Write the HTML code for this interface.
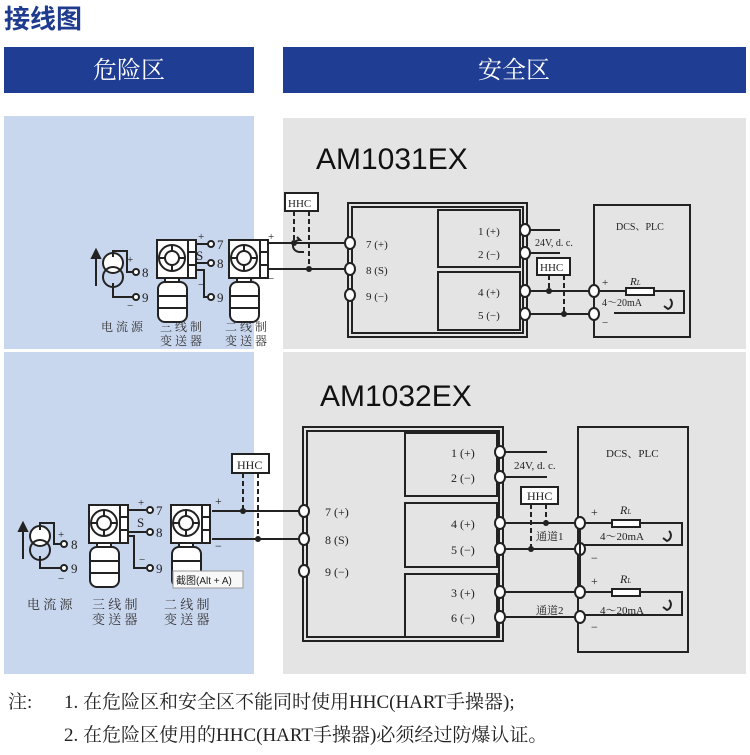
<!DOCTYPE html>
<html><head><meta charset="utf-8"><style>
body{margin:0;background:#fff;width:750px;height:750px;overflow:hidden}
svg text{font-family:"Liberation Serif","Noto Serif CJK SC",serif}
</style></head><body>
<svg width="750" height="750" viewBox="0 0 750 750" xmlns="http://www.w3.org/2000/svg">
<defs>
<g id="tx" fill="none" stroke="#222" stroke-width="2">
 <rect x="0" y="0" width="31" height="38" fill="#fff"/>
 <circle cx="15" cy="18" r="13" fill="#fff"/>
 <circle cx="15" cy="18" r="7"/>
 <path d="M15 5v6M15 25v6M2 18h6M22 18h6"/>
 <rect x="31" y="0" width="8" height="38" fill="#fff"/>
 <path d="M31 12h8M31 25h8"/>
 <rect x="8" y="38" width="14" height="4" fill="#fff"/>
 <rect x="1" y="42" width="29" height="40" rx="7" fill="#fff"/>
 <path d="M1 56h29M1 68h29"/>
</g>
<g id="src" fill="none" stroke="#222" stroke-width="2">
 <circle cx="0" cy="-7" r="10" fill="#fff"/><circle cx="0" cy="7" r="10"/>
 <path d="M-17 16v-30M-17 -20l-4 8h8z" fill="#222"/>
</g>
</defs>
<text x="4" y="28" font-size="26" font-weight="bold" fill="#1f3b8f" style="font-family:'Liberation Sans','Noto Sans CJK SC',sans-serif">接线图</text>
<rect x="4" y="47" width="250" height="46" fill="#203d94"/>
<rect x="283" y="47" width="463" height="46" fill="#203d94"/>
<text x="129" y="78" font-size="24" fill="#fff" text-anchor="middle">危险区</text>
<text x="514" y="78" font-size="24" fill="#fff" text-anchor="middle">安全区</text>
<rect x="4" y="116" width="250" height="558" fill="#c8d6ee"/>
<rect x="283" y="118" width="463" height="556" fill="#e4e4e4"/>
<rect x="0" y="349" width="750" height="3" fill="#fff"/>

<!-- ===== upper ===== -->
<text x="316" y="169" font-size="30" fill="#111" style="font-family:'Liberation Sans',sans-serif">AM1031EX</text>
<g fill="none" stroke="#222" stroke-width="2">
 <rect x="348" y="203" width="179" height="134"/>
 <rect x="352" y="207" width="171" height="126"/>
 <rect x="438" y="210" width="82" height="57" fill="#e4e4e4"/>
 <rect x="438" y="272" width="82" height="58" fill="#e4e4e4"/>
 <rect x="594" y="205" width="96" height="132"/>
 <path d="M262 243h88M262 269h88"/>
 <path d="M525 230h35M525 253h35"/>
 <path d="M525 291h69M525 314h69M594 291h32M654 291h30v22h-70"/>
 <rect x="626" y="288" width="28" height="7" fill="#fff"/>
 <rect x="285" y="193" width="33" height="18" fill="#fff"/>
 <rect x="537" y="258" width="33" height="17" fill="#fff"/>
 <path d="M294 211v32M309 211v58M549 275v16M564 275v39" stroke-dasharray="5,3"/>
 <path d="M300 252a7 6 0 1 1 0 -12l-3 -3M300 252l4 0" />
</g>
<g fill="#222"><circle cx="294" cy="243" r="3"/><circle cx="309" cy="269" r="3"/><circle cx="549" cy="291" r="3"/><circle cx="564" cy="314" r="3"/></g>
<g fill="#fff" stroke="#222" stroke-width="2">
 <ellipse cx="350" cy="243" rx="5" ry="6"/><ellipse cx="350" cy="269" rx="5" ry="6"/><ellipse cx="350" cy="295" rx="5" ry="6"/>
 <ellipse cx="525" cy="230" rx="5" ry="6"/><ellipse cx="525" cy="253" rx="5" ry="6"/><ellipse cx="525" cy="291" rx="5" ry="6"/><ellipse cx="525" cy="314" rx="5" ry="6"/>
 <ellipse cx="594" cy="291" rx="5" ry="6"/><ellipse cx="594" cy="314" rx="5" ry="6"/>
</g>
<g font-size="11" fill="#222">
 <text x="288" y="207">HHC</text><text x="540" y="271">HHC</text>
 <text x="366" y="248">7 (+)</text><text x="366" y="274">8 (S)</text><text x="366" y="300">9 (−)</text>
 <text x="478" y="235">1 (+)</text><text x="478" y="258">2 (−)</text>
 <text x="478" y="296">4 (+)</text><text x="478" y="319">5 (−)</text>
 <text x="535" y="246" font-size="10">24V, d. c.</text>
 <text x="616" y="230" font-size="10">DCS、PLC</text>
 <text x="602" y="286">+</text><text x="602" y="326">−</text>
 <text x="630" y="285" font-style="italic">R<tspan font-size="7">L</tspan></text>
 <text x="602" y="306" font-size="10">4～20mA</text>
 <text x="268" y="240">+</text><text x="268" y="282">−</text>
</g>
<path d="M670 299a6 6 0 0 1 -2 10l-4 -3" fill="none" stroke="#222" stroke-width="2"/>
<!-- left upper -->
<use href="#tx" x="157" y="240"/>
<use href="#tx" x="229" y="240"/>
<use href="#src" x="113" y="270"/>
<g fill="none" stroke="#222" stroke-width="2">
 <path d="M113 257v-6h14v21h6M113 283v14h20"/>
 <path d="M196 244h12M196 263h12"/>
 <path d="M196 270h8v27h4"/>
 <circle cx="136" cy="272" r="3" fill="#fff"/><circle cx="136" cy="297" r="3" fill="#fff"/>
 <circle cx="211" cy="244" r="3" fill="#fff"/><circle cx="211" cy="263" r="3" fill="#fff"/><circle cx="211" cy="297" r="3" fill="#fff"/>
</g>
<g font-size="13" fill="#222">
 <text x="142" y="277">8</text><text x="142" y="302">9</text>
 <text x="217" y="249">7</text><text x="217" y="268">8</text><text x="217" y="302">9</text>
 <text x="198" y="240" font-size="11">+</text><text x="196" y="260">S</text><text x="198" y="288" font-size="11">−</text>
 <text x="127" y="263" font-size="11">+</text><text x="127" y="309" font-size="11">−</text>
</g>
<g font-size="12" fill="#333">
 <text x="101" y="331">电 流 源</text>
 <text x="160" y="331">三 线 制</text><text x="160" y="345">变 送 器</text>
 <text x="225" y="331">二 线 制</text><text x="225" y="345">变 送 器</text>
</g>

<!-- ===== lower ===== -->
<text x="320" y="406" font-size="30" fill="#111" style="font-family:'Liberation Sans',sans-serif">AM1032EX</text>
<g fill="none" stroke="#222" stroke-width="2">
 <rect x="303" y="427" width="200" height="214"/>
 <rect x="307" y="431" width="192" height="206"/>
 <rect x="405" y="433" width="92" height="63" fill="#e4e4e4"/>
 <rect x="405" y="503" width="92" height="64" fill="#e4e4e4"/>
 <rect x="405" y="574" width="92" height="63" fill="#e4e4e4"/>
 <rect x="578" y="427" width="110" height="225"/>
 <path d="M212 511h92M212 539h92"/>
 <path d="M500 452h47M500 477h47"/>
 <path d="M500 523h80M500 549h80M500 592h80M500 617h80"/>
 <path d="M580 523h32M640 523h42v22h-102M580 592h32M640 592h42v23h-102"/>
 <rect x="612" y="520" width="28" height="7" fill="#fff"/>
 <rect x="612" y="589" width="28" height="7" fill="#fff"/>
 <rect x="232" y="454" width="37" height="19" fill="#fff"/>
 <rect x="521" y="487" width="37" height="17" fill="#fff"/>
 <path d="M243 473v38M258 473v66M531 504v45M546 504v19" stroke-dasharray="5,3"/>
</g>
<g fill="#222"><circle cx="243" cy="511" r="3"/><circle cx="258" cy="539" r="3"/><circle cx="531" cy="549" r="3"/><circle cx="546" cy="523" r="3"/></g>
<g fill="#fff" stroke="#222" stroke-width="2">
 <ellipse cx="304" cy="511" rx="5" ry="6"/><ellipse cx="304" cy="539" rx="5" ry="6"/><ellipse cx="304" cy="571" rx="5" ry="6"/>
 <ellipse cx="500" cy="452" rx="5" ry="6"/><ellipse cx="500" cy="477" rx="5" ry="6"/><ellipse cx="500" cy="523" rx="5" ry="6"/><ellipse cx="500" cy="549" rx="5" ry="6"/><ellipse cx="500" cy="592" rx="5" ry="6"/><ellipse cx="500" cy="617" rx="5" ry="6"/>
 <ellipse cx="580" cy="523" rx="5" ry="6"/><ellipse cx="580" cy="549" rx="5" ry="6"/><ellipse cx="580" cy="592" rx="5" ry="6"/><ellipse cx="580" cy="617" rx="5" ry="6"/>
</g>
<path d="M580 529v57" stroke="#222" stroke-width="2"/>
<g font-size="12" fill="#222">
 <text x="237" y="469">HHC</text><text x="527" y="500">HHC</text>
 <text x="325" y="516">7 (+)</text><text x="325" y="544">8 (S)</text><text x="325" y="576">9 (−)</text>
 <text x="451" y="457">1 (+)</text><text x="451" y="482">2 (−)</text>
 <text x="451" y="528">4 (+)</text><text x="451" y="554">5 (−)</text>
 <text x="451" y="597">3 (+)</text><text x="451" y="622">6 (−)</text>
 <text x="514" y="469" font-size="11">24V, d. c.</text>
 <text x="606" y="457" font-size="11">DCS、PLC</text>
 <text x="591" y="516">+</text><text x="591" y="562">−</text>
 <text x="591" y="585">+</text><text x="591" y="631">−</text>
 <text x="620" y="514" font-style="italic">R<tspan font-size="7">L</tspan></text>
 <text x="620" y="583" font-style="italic">R<tspan font-size="7">L</tspan></text>
 <text x="600" y="540" font-size="11">4～20mA</text>
 <text x="600" y="614" font-size="11">4～20mA</text>
 <text x="536" y="540" font-size="11">通道1</text>
 <text x="536" y="614" font-size="11">通道2</text>
 <text x="215" y="505">+</text><text x="215" y="550">−</text>
</g>
<path d="M669 531a6 6 0 0 1 -2 10l-4 -3M669 600a6 6 0 0 1 -2 10l-4 -3" fill="none" stroke="#222" stroke-width="2"/>
<!-- left lower -->
<use href="#tx" x="89" y="505"/>
<use href="#tx" x="171" y="505"/>
<use href="#src" x="40" y="543"/>
<g fill="none" stroke="#222" stroke-width="2">
 <path d="M40 530v-7h14v21h7M40 556v12h21"/>
 <path d="M128 510h18M128 532h18"/>
 <path d="M128 536h6v32h12"/>
 <circle cx="64" cy="544" r="3" fill="#fff"/><circle cx="64" cy="568" r="3" fill="#fff"/>
 <circle cx="150" cy="510" r="3" fill="#fff"/><circle cx="150" cy="532" r="3" fill="#fff"/><circle cx="150" cy="568" r="3" fill="#fff"/>
</g>
<g font-size="13" fill="#222">
 <text x="71" y="549">8</text><text x="71" y="573">9</text>
 <text x="156" y="515">7</text><text x="156" y="537">8</text><text x="156" y="573">9</text>
 <text x="138" y="506" font-size="11">+</text><text x="137" y="527">S</text><text x="139" y="563" font-size="11">−</text>
 <text x="58" y="538" font-size="11">+</text><text x="58" y="582" font-size="11">−</text>
</g>
<rect x="173" y="571" width="70" height="17" fill="#f8f8f8" stroke="#999" stroke-width="1"/>
<text x="176" y="584" font-size="10" fill="#222" style="font-family:'Liberation Sans','Noto Sans CJK SC',sans-serif">截图(Alt + A)</text>
<g font-size="13" fill="#333">
 <text x="27" y="609">电 流 源</text>
 <text x="92" y="609">三 线 制</text><text x="92" y="624">变 送 器</text>
 <text x="164" y="609">二 线 制</text><text x="164" y="624">变 送 器</text>
</g>

<g font-size="19" fill="#222">
 <text x="8" y="708">注:</text>
 <text x="64" y="708">1. 在危险区和安全区不能同时使用HHC(HART手操器);</text>
 <text x="64" y="741">2. 在危险区使用的HHC(HART手操器)必须经过防爆认证。</text>
</g>
</svg>
</body></html>
